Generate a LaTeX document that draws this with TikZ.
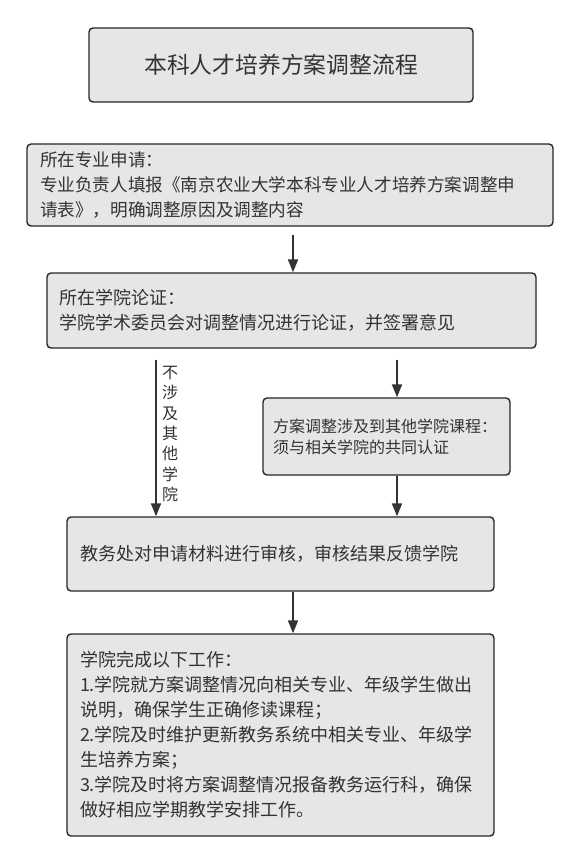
\documentclass[tikz,border=0pt]{standalone}
\usepackage{fontspec}
\setmainfont{Noto Sans CJK SC}
\usetikzlibrary{arrows.meta}
\definecolor{fond}{HTML}{E6E6E6}
\definecolor{trait}{HTML}{262626}
\definecolor{encre}{HTML}{333333}

\begin{document}
\begin{tikzpicture}[x=1pt, y=-1pt]
			\tikzset{boite/.style={draw=trait, fill=fond, line width=1.4pt, rounded corners=4pt, inner xsep=13pt, inner ysep=0pt, text=encre, align=left, font=\fontsize{18}{25}\selectfont},
			fleche/.style={draw=encre, line width=1.8pt, -{Triangle[length=13pt,width=10pt]}}};

			\useasboundingbox (0,0) rectangle (583,865);

			\coordinate (gauche) at (156,0);
			\coordinate (milieu) at (293,0);
			\coordinate (droite) at (397,0);

			\node[boite, minimum width=384pt, minimum height=74pt, align=center, font=\fontsize{22.8}{26}\selectfont] (titre) at (281,65) {本科人才培养方案调整流程};
			\node[boite, minimum width=526pt, minimum height=82pt, text width=500pt, font=\fontsize{17.6}{25}\selectfont] (e1) at (290,185) {所在专业申请：\\专业负责人填报《南京农业大学本科专业人才培养方案调整申\\请表》，明确调整原因及调整内容};
			\node[boite, minimum width=489pt, minimum height=75pt, inner xsep=12pt, text width=465pt] (e2) at (291.5,310.5) {所在学院论证：\\学院学术委员会对调整情况进行论证，并签署意见};
			\node[boite, minimum width=247pt, minimum height=77pt, inner xsep=10pt, text width=227pt, font=\fontsize{16}{21}\selectfont] (e3) at (386.5,436.5) {方案调整涉及到其他学院课程：\\须与相关学院的共同认证};
			\node[boite, minimum width=427pt, minimum height=74pt, text width=401pt] (e4) at (280.5,554) {教务处对申请材料进行审核，审核结果反馈学院};
			\node[boite, minimum width=427pt, minimum height=202pt, text width=401pt] (e5) at (280.5,735) {学院完成以下工作：\\1.学院就方案调整情况向相关专业、年级学生做出\\说明，确保学生正确修读课程；\\2.学院及时维护更新教务系统中相关专业、年级学\\生培养方案；\\3.学院及时将方案调整情况报备教务运行科，确保\\做好相应学期教学安排工作。};

			\node[text=encre, align=center, inner sep=0pt, font=\fontsize{16}{20.3}\selectfont] (etiquette) at (170,434) {不\\涉\\及\\其\\他\\学\\院};

			\draw[fleche, shorten <=8pt] (e1.south -| milieu) -- (e2.north -| milieu);
			\draw[fleche, shorten <=11pt] (e2.south -| gauche) -- (e4.north -| gauche);
			\draw[fleche, shorten <=11pt] (e2.south -| droite) -- (e3.north -| droite);
			\draw[fleche] (e3.south -| droite) -- (e4.north -| droite);
			\draw[fleche] (e4.south -| milieu) -- (e5.north -| milieu);

		\end{tikzpicture}
\end{document}
